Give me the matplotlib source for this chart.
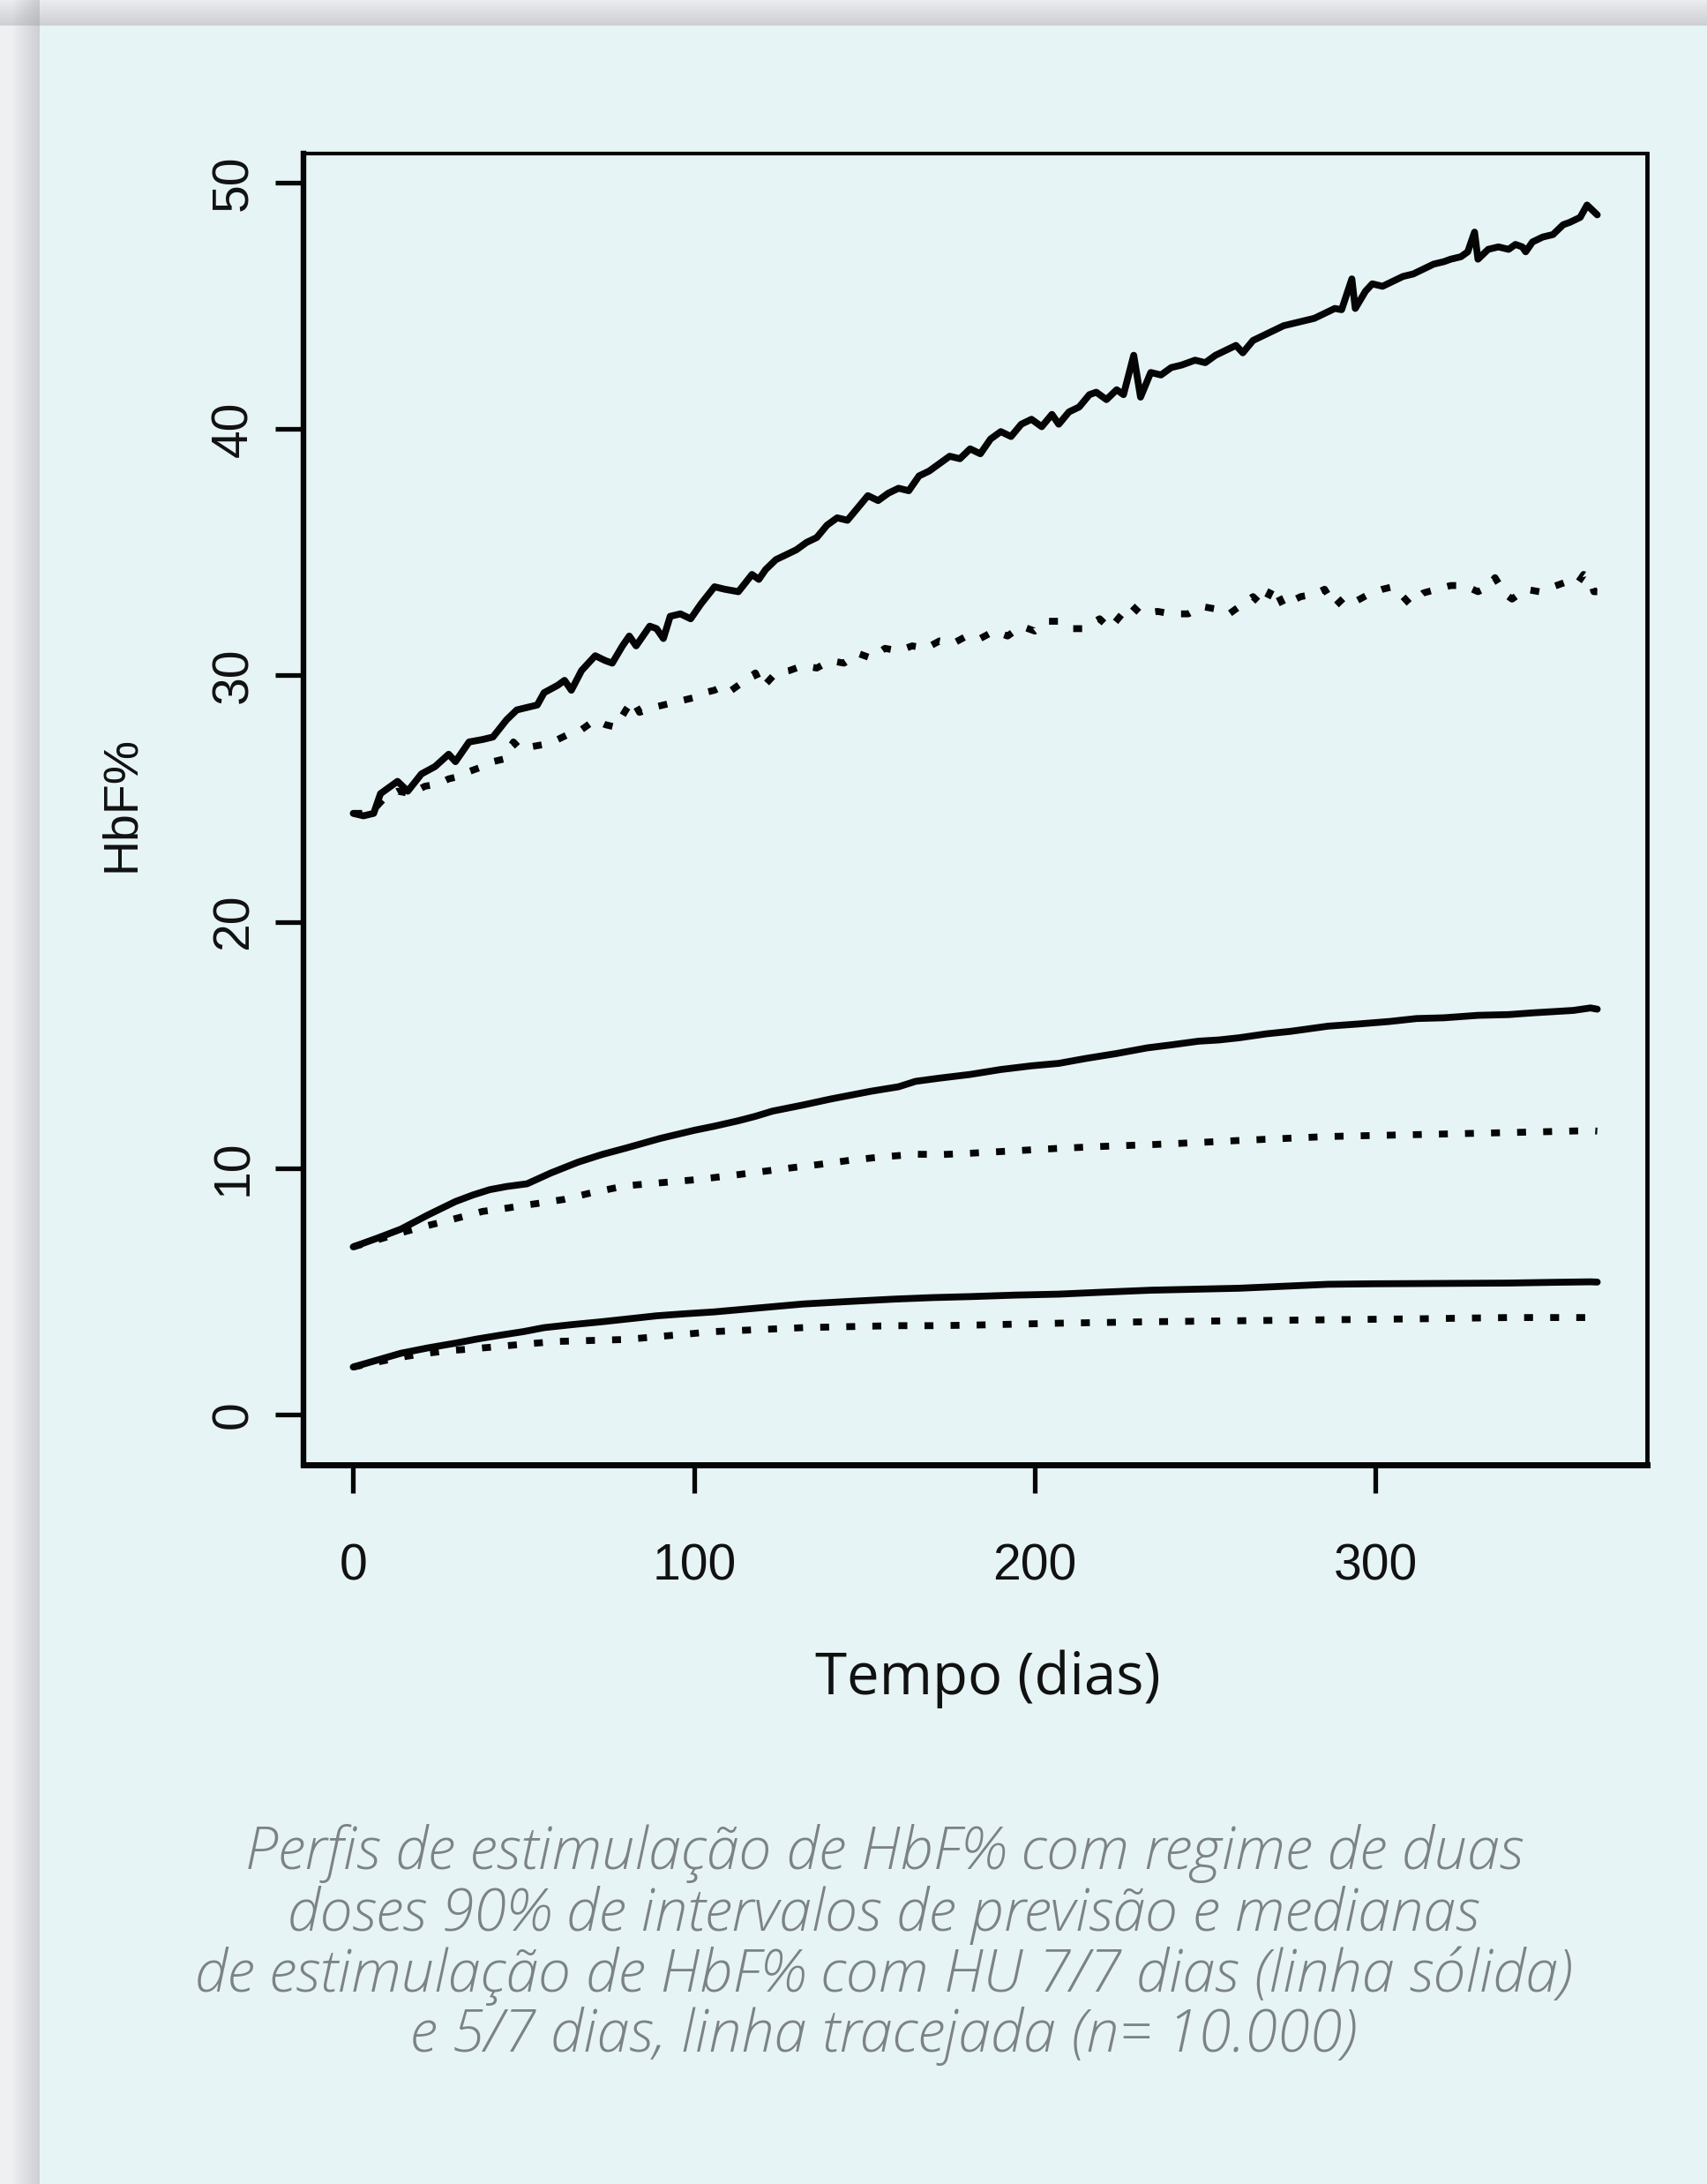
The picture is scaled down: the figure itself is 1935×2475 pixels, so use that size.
import matplotlib.pyplot as plt
from matplotlib.patches import Rectangle

# medianas e intervalos de previsao (HbF%)
# 7/7 dias, limite superior (linha solida)
sup77_dias = [0, 3, 6, 8, 11, 13, 16, 20, 24, 28, 30, 34, 38, 41, 45, 48, 51, 54, 56, 60,
              62, 64, 67, 71, 74, 76, 79, 81, 83, 87, 89, 91, 93, 96, 99, 102, 106, 109, 113, 117,
              119, 121, 124, 127, 130, 133, 136, 139, 142, 145, 148, 151, 154, 157, 160, 163, 166, 169, 172, 175,
              178, 181, 184, 187, 190, 193, 196, 199, 202, 205, 207, 210, 213, 216, 218, 221, 224, 226, 229, 231,
              234, 237, 240, 243, 247, 250, 253, 256, 259, 261, 264, 267, 270, 273, 276, 279, 282, 285, 288, 290,
              293, 294, 297, 299, 302, 305, 308, 311, 314, 317, 320, 322, 325, 327, 329, 330, 333, 336, 339, 341,
              343, 344, 346, 349, 352, 355, 357, 360, 362, 365]
sup77_hbf = [24.4, 24.3, 24.4, 25.2, 25.5, 25.7, 25.3, 26.0, 26.3, 26.8, 26.5, 27.3, 27.4, 27.5, 28.2, 28.6, 28.7, 28.8, 29.3, 29.6,
             29.8, 29.4, 30.2, 30.8, 30.6, 30.5, 31.2, 31.6, 31.2, 32.0, 31.9, 31.5, 32.4, 32.5, 32.3, 32.9, 33.6, 33.5, 33.4, 34.1,
             33.9, 34.3, 34.7, 34.9, 35.1, 35.4, 35.6, 36.1, 36.4, 36.3, 36.8, 37.3, 37.1, 37.4, 37.6, 37.5, 38.1, 38.3, 38.6, 38.9,
             38.8, 39.2, 39.0, 39.6, 39.9, 39.7, 40.2, 40.4, 40.1, 40.6, 40.2, 40.7, 40.9, 41.4, 41.5, 41.2, 41.6, 41.4, 43.0, 41.3,
             42.3, 42.2, 42.5, 42.6, 42.8, 42.7, 43.0, 43.2, 43.4, 43.1, 43.6, 43.8, 44.0, 44.2, 44.3, 44.4, 44.5, 44.7, 44.9, 44.85,
             46.1, 44.9, 45.6, 45.9, 45.8, 46.0, 46.2, 46.3, 46.5, 46.7, 46.8, 46.9, 47.0, 47.2, 48.0, 46.9, 47.3, 47.4, 47.3, 47.5,
             47.4, 47.2, 47.6, 47.8, 47.9, 48.3, 48.4, 48.6, 49.1, 48.7]

# 5/7 dias, limite superior (linha tracejada)
sup57_dias = [0, 5, 9, 13, 17, 21, 25, 28, 31, 34, 38, 41, 44, 47, 49, 52, 56, 60, 63, 67,
              71, 74, 77, 80, 82, 84, 88, 91, 94, 97, 100, 103, 106, 109, 111, 115, 118, 120, 124, 128,
              132, 136, 140, 144, 148, 152, 156, 160, 164, 168, 172, 176, 180, 184, 188, 192, 196, 200, 204, 207,
              211, 214, 219, 222, 225, 228, 231, 236, 240, 245, 249, 253, 257, 261, 264, 267, 270, 273, 275, 278,
              282, 285, 288, 291, 294, 298, 302, 305, 308, 310, 314, 318, 322, 326, 330, 333, 335, 338, 340, 344,
              348, 352, 356, 359, 361, 363, 364, 365]
sup57_hbf = [24.4, 24.4, 25.0, 25.3, 25.2, 25.5, 25.6, 25.8, 25.9, 26.1, 26.3, 26.5, 26.6, 27.3, 27.0, 27.1, 27.2, 27.4, 27.6, 27.8,
             28.2, 28.0, 27.9, 28.6, 29.0, 28.5, 28.7, 28.8, 28.9, 29.0, 29.1, 29.3, 29.4, 29.6, 29.4, 29.8, 30.1, 29.5, 30.1, 30.2,
             30.4, 30.3, 30.6, 30.5, 30.9, 30.7, 31.1, 31.0, 31.2, 31.1, 31.4, 31.3, 31.6, 31.5, 31.8, 31.6, 32.0, 31.8, 32.2, 32.2,
             31.9, 31.9, 32.3, 31.9, 32.4, 32.9, 32.5, 32.6, 32.5, 32.5, 32.8, 32.7, 32.5, 32.9, 33.2, 32.8, 33.65, 32.8, 33.0, 33.2,
             33.3, 33.5, 32.8, 33.2, 33.0, 33.3, 33.5, 33.6, 33.2, 32.9, 33.35, 33.5, 33.65, 33.65, 33.4, 33.6, 33.97, 33.3, 33.1, 33.5,
             33.4, 33.6, 33.8, 33.7, 34.1, 33.9, 33.4, 33.4]

# 7/7 dias, mediana (linha solida)
med77_dias = [0, 7, 14, 22, 30, 35, 40, 45, 51, 58, 66, 73, 80, 90, 100, 106, 113, 118, 123, 132,
              140, 152, 160, 165, 172, 181, 190, 199, 207, 215, 224, 233, 240, 248, 254, 260, 268, 275, 286, 295,
              304, 312, 320, 330, 339, 346, 352, 358, 363, 365]
med77_hbf = [6.8, 7.15, 7.52, 8.1, 8.64, 8.9, 9.12, 9.25, 9.36, 9.8, 10.24, 10.55, 10.81, 11.2, 11.53, 11.7, 11.92, 12.1, 12.31, 12.56,
             12.8, 13.12, 13.3, 13.52, 13.65, 13.8, 14.0, 14.15, 14.25, 14.45, 14.65, 14.88, 15.0, 15.15, 15.2, 15.29, 15.45, 15.55, 15.76, 15.85,
             15.95, 16.07, 16.1, 16.2, 16.23, 16.3, 16.35, 16.4, 16.5, 16.45]

# 5/7 dias, mediana (linha tracejada)
med57_dias = [0, 7, 14, 20, 27, 32, 38, 44, 50, 56, 62, 70, 80, 90, 100, 110, 119, 128, 137, 146,
              155, 165, 173, 181, 194, 207, 220, 234, 247, 260, 273, 286, 299, 313, 326, 339, 351, 363, 365]
med57_hbf = [6.8, 7.08, 7.37, 7.6, 7.84, 8.02, 8.24, 8.35, 8.48, 8.6, 8.73, 9.0, 9.28, 9.4, 9.52, 9.68, 9.84, 10.0, 10.15, 10.32,
             10.45, 10.56, 10.55, 10.6, 10.7, 10.8, 10.88, 10.95, 11.03, 11.12, 11.2, 11.28, 11.32, 11.36, 11.4, 11.44, 11.48, 11.52, 11.5]

# 7/7 dias, limite inferior (linha solida)
inf77_dias = [0, 7, 14, 22, 30, 36, 43, 50, 56, 64, 73, 81, 89, 97, 106, 119, 132, 145, 159, 170,
              181, 194, 207, 220, 234, 247, 260, 273, 286, 299, 313, 326, 339, 352, 363, 365]
inf77_hbf = [1.92, 2.2, 2.48, 2.7, 2.89, 3.05, 3.21, 3.36, 3.52, 3.64, 3.76, 3.88, 4.0, 4.08, 4.16, 4.32, 4.48, 4.58, 4.68, 4.74,
             4.78, 4.84, 4.88, 4.96, 5.04, 5.08, 5.12, 5.2, 5.28, 5.3, 5.31, 5.32, 5.33, 5.36, 5.38, 5.37]

# 5/7 dias, limite inferior (linha tracejada)
inf57_dias = [0, 7, 14, 20, 27, 34, 40, 50, 60, 70, 80, 93, 106, 119, 132, 145, 159, 170, 181, 207,
              234, 260, 286, 313, 339, 363, 365]
inf57_hbf = [1.92, 2.12, 2.32, 2.45, 2.57, 2.65, 2.72, 2.85, 2.96, 3.0, 3.04, 3.2, 3.36, 3.44, 3.52, 3.56, 3.6, 3.6, 3.62, 3.7,
             3.76, 3.8, 3.84, 3.88, 3.93, 3.93, 3.93]

x_ticks = [0, 100, 200, 300]
y_ticks = [0, 10, 20, 30, 40, 50]

legenda = ["Perfis de estimulação de HbF% com regime de duas",
           "doses 90% de intervalos de previsão e medianas",
           "de estimulação de HbF% com HU 7/7 dias (linha sólida)",
           "e 5/7 dias, linha tracejada (n= 10.000)"]

W, H = 1935, 2475
fig = plt.figure(figsize=(W / 100, H / 100), dpi=100)
fig.patch.set_facecolor('#eff0f2')

# sombra do cartao
for i in range(10):
    w = 3 + 3 * i
    fig.add_artist(Rectangle(((45 - w) / W, 0), w / W, 1, transform=fig.transFigure,
                             color='#8e949a', alpha=0.035, lw=0, zorder=-11))
    fig.add_artist(Rectangle((0, (H - 29) / H), 1, w / H, transform=fig.transFigure,
                             color='#8e949a', alpha=0.035, lw=0, zorder=-11))
fig.add_artist(Rectangle((45 / W, 0), 1 - 45 / W, (H - 29) / H, transform=fig.transFigure,
                         color='#e6f4f5', lw=0, zorder=-10))

ax = fig.add_axes([344 / W, 1 - 1660 / H, (1867 - 344) / W, (1660 - 174) / H])
ax.set_facecolor('none')

solida = dict(color='#050505', lw=5.6, solid_joinstyle='round', solid_capstyle='round')
tracejada = dict(color='#050505', lw=5.6, linestyle=(0, (1.3, 2.5)), dash_capstyle='butt')

ax.plot(sup77_dias, sup77_hbf, **solida)
ax.plot(sup57_dias, sup57_hbf, **tracejada)
ax.plot(med77_dias, med77_hbf, **solida)
ax.plot(med57_dias, med57_hbf, **tracejada)
ax.plot(inf77_dias, inf77_hbf, **solida)
ax.plot(inf57_dias, inf57_hbf, **tracejada)

ax.set_xlim(-14.6, 379.6)
ax.set_ylim(-2.05, 51.19)
ax.set_xticks(x_ticks)
ax.set_yticks(y_ticks)

for lado, lw in [('left', 4.6), ('bottom', 5.0), ('top', 3.0), ('right', 3.5)]:
    ax.spines[lado].set_linewidth(lw)
    ax.spines[lado].set_color('#050505')

ax.tick_params(direction='out', length=23, width=3.8, color='#050505',
               labelsize=41, labelcolor='#111111')
ax.tick_params(axis='x', pad=41)
ax.tick_params(axis='y', pad=14, labelrotation=90)
for lbl in ax.get_xticklabels() + ax.get_yticklabels():
    lbl.set_fontfamily('Liberation Sans')
for lbl in ax.get_yticklabels():
    lbl.set_va('center')

fig.text(152 / W, 1 - 911 / H, 'HbF%', rotation=90, rotation_mode='anchor',
         ha='center', va='baseline', fontsize=40, family='Liberation Sans', color='#111111')

fig.text(1120 / W, 1 - 1920 / H, 'Tempo (dias)', ha='center', va='baseline',
         fontsize=47, family='Open Sans', color='#111111')

baselines = [2118, 2188, 2257, 2325]
for linha, yb in zip(legenda, baselines):
    fig.text(1002 / W, 1 - yb / H, linha, ha='center', va='baseline', fontsize=48,
             family='Open Sans', style='italic', weight='light', color='#7c8285')

fig.savefig('out.png', dpi=100, facecolor=fig.get_facecolor())
